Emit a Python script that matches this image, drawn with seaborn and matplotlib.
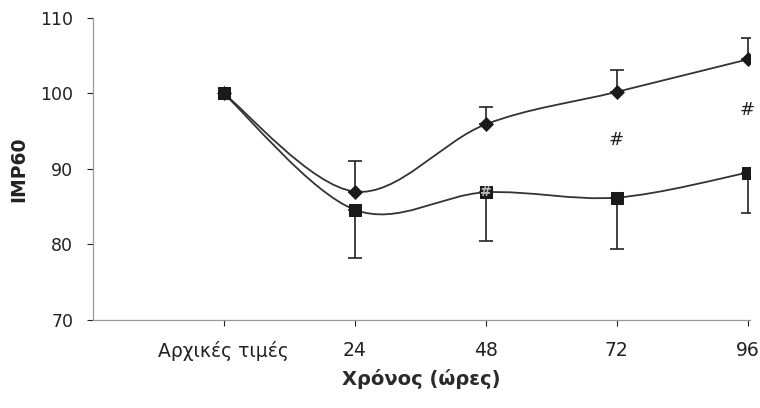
import numpy as np
import pandas as pd
import matplotlib
matplotlib.use("Agg")
import matplotlib.pyplot as plt
from matplotlib.path import Path
from matplotlib.patches import PathPatch
import seaborn as sns

# δεδομένα (εκτίμηση από την εικόνα)
katigories = ["Αρχικές τιμές", "24", "48", "72", "96"]
seira_a = [100.0, 87.0, 95.9, 100.2, 104.5]      # ρόμβοι
seira_a_sfalma = [0.0, 4.1, 2.3, 2.9, 2.8]        # προς τα πάνω
seira_b = [100.0, 84.6, 86.9, 86.2, 89.5]        # τετράγωνα
seira_b_sfalma = [0.0, 6.4, 6.4, 6.8, 5.3]        # προς τα κάτω
diesi_x = ["72", "96"]
diesi_y = [93.8, 97.8]

sns.set_style("white")
plt.rcParams["font.family"] = ["DejaVu Sans"]

df = pd.DataFrame({"x": np.arange(len(katigories)),
                   "a": seira_a, "b": seira_b})


def omali_grammi(ax, xs, ys, **kw):
    # καμπύλη τύπου Excel (Catmull-Rom με Bezier)
    pts = np.column_stack([xs, ys]).astype(float)
    n = len(pts)
    verts = [pts[0]]
    codes = [Path.MOVETO]
    for i in range(n - 1):
        p0 = pts[max(i - 1, 0)]
        p1 = pts[i]
        p2 = pts[i + 1]
        p3 = pts[min(i + 2, n - 1)]
        c1 = p1 + (p2 - p0) / 6
        c2 = p2 - (p3 - p1) / 6
        verts += [c1, c2, p2]
        codes += [Path.CURVE4] * 3
    ax.add_patch(PathPatch(Path(verts, codes), fill=False, **kw))


fig = plt.figure(figsize=(7.6, 4.08), dpi=100)
ax = fig.add_axes([0.122, 0.216, 0.865, 0.740])

omali_grammi(ax, df["x"], df["a"], edgecolor="#333333", lw=1.3)
omali_grammi(ax, df["x"], df["b"], edgecolor="#333333", lw=1.3)

ax.errorbar(df["x"][1:], df["a"][1:], yerr=[np.zeros(4), seira_a_sfalma[1:]],
            fmt="none", ecolor="#222222", elinewidth=1.2, capsize=5, capthick=1.2)
ax.errorbar(df["x"][1:], df["b"][1:], yerr=[seira_b_sfalma[1:], np.zeros(4)],
            fmt="none", ecolor="#222222", elinewidth=1.2, capsize=5, capthick=1.2)

sns.scatterplot(data=df, x="x", y="a", marker="D", s=50, color="#1a1a1a",
                edgecolor="#1a1a1a", ax=ax, zorder=4)
sns.scatterplot(data=df, x="x", y="b", marker="s", s=85, color="#1a1a1a",
                edgecolor="#1a1a1a", ax=ax, zorder=5)
ax.text(2, seira_b[2], "#", ha="center", va="center", fontsize=10,
        color="#bbbbbb", fontweight="bold", zorder=6)

for k, yv in zip(diesi_x, diesi_y):
    ax.text(katigories.index(k), yv, "#", ha="center", va="center",
            fontsize=13, color="#222222")

ax.set_xlim(-1, 4.02)
ax.set_ylim(70, 110)
ax.set_xticks(df["x"])
ax.set_xticklabels(katigories, fontsize=13.5, color="#222222")
ax.set_yticks([70, 80, 90, 100, 110])
ax.tick_params(axis="y", labelsize=12.5, colors="#222222", length=4, width=0.8,
               direction="out", left=True, pad=10)
ax.tick_params(axis="x", length=4, width=0.8, direction="out", bottom=True,
               pad=11, colors="#222222")
for s in ["top", "right"]:
    ax.spines[s].set_visible(False)
for s in ["left", "bottom"]:
    ax.spines[s].set_color("#999999")
    ax.spines[s].set_linewidth(0.9)

ax.set_xlabel("Χρόνος (ώρες)", fontsize=14, fontweight="bold",
              color="#2a2a2a", labelpad=6)
ax.set_ylabel("IMP60", fontsize=13.5, fontweight="bold", color="#222222",
              labelpad=9)

fig.savefig("out.png", dpi=100)
